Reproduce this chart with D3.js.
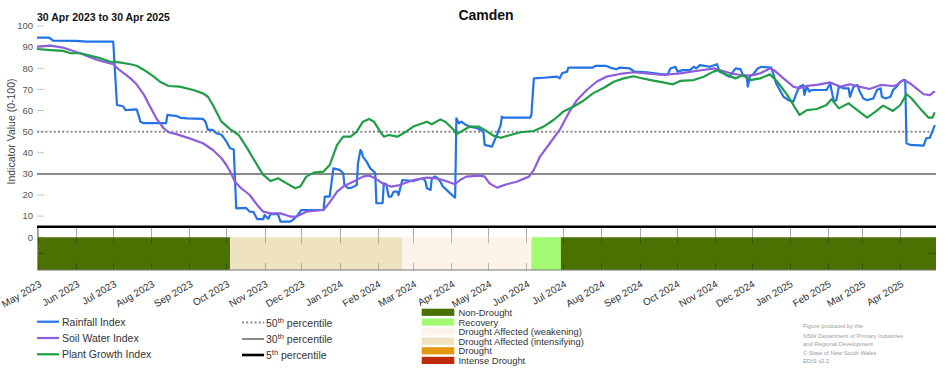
<!DOCTYPE html>
<html><head><meta charset="utf-8">
<script src="https://cdn.jsdelivr.net/npm/d3@7"></script>
<style>body{margin:0;background:#fff}svg{font-family:"Liberation Sans",Arial,sans-serif;display:block}</style>
</head><body><svg id="c" width="952" height="370"></svg>
<script>
// ---------------- DATA ----------------
const chartTitle = "Camden";
const chartSubtitle = "30 Apr 2023 to 30 Apr 2025";
const dateRange = ["2023-04-30", "2025-04-30"];
const yTickValues = [0, 10, 20, 30, 40, 50, 60, 70, 80, 90, 100];
const yAxisTitle = "Indicator Value (0-100)";

const rainfallIndex = [
 ["2023-04-30",94.5],["2023-05-10",94.5],["2023-05-13",93.1],["2023-06-01",93.0],["2023-06-09",92.6],["2023-07-01",92.6],
 ["2023-07-04",62.6],["2023-07-09",62.0],["2023-07-11",60.2],["2023-07-20",60.5],["2023-07-22",57.0],["2023-07-23",54.7],
 ["2023-07-26",54.0],["2023-08-13",54.0],["2023-08-14",57.9],["2023-08-22",57.3],["2023-08-25",56.5],["2023-08-30",56.3],
 ["2023-09-12",56.0],["2023-09-14",54.7],["2023-09-16",50.8],["2023-09-20",50.8],["2023-09-23",49.2],["2023-09-27",48.5],
 ["2023-09-29",47.0],["2023-10-01",45.3],["2023-10-04",42.1],["2023-10-07",41.5],["2023-10-09",13.7],["2023-10-17",13.9],
 ["2023-10-20",12.1],["2023-10-23",12.0],["2023-10-26",8.6],["2023-10-31",8.6],["2023-11-01",10.5],["2023-11-04",8.8],
 ["2023-11-06",10.9],["2023-11-12",10.9],["2023-11-14",7.4],["2023-11-22",7.4],["2023-11-24",8.2],["2023-11-27",9.8],
 ["2023-12-01",12.9],["2023-12-19",12.9],["2023-12-20",19.2],["2023-12-24",19.2],["2023-12-27",32.6],["2024-01-01",31.9],
 ["2024-01-04",30.3],["2024-01-05",24.7],["2024-01-08",23.2],["2024-01-11",23.5],["2024-01-15",24.7],["2024-01-16",35.0],
 ["2024-01-18",41.3],["2024-01-19",40.5],["2024-01-20",38.2],["2024-01-23",35.8],["2024-01-26",32.6],["2024-01-29",31.1],
 ["2024-01-30",30.3],["2024-01-31",16.1],["2024-02-05",16.1],["2024-02-06",25.5],["2024-02-08",25.1],["2024-02-10",19.2],
 ["2024-02-12",19.2],["2024-02-14",21.6],["2024-02-17",21.6],["2024-02-18",20.0],["2024-02-21",27.1],["2024-03-01",26.6],
 ["2024-03-09",27.9],["2024-03-11",26.3],["2024-03-12",23.2],["2024-03-15",22.4],["2024-03-16",27.9],["2024-03-19",28.7],
 ["2024-03-21",27.9],["2024-03-23",26.3],["2024-03-25",24.0],["2024-03-28",22.4],["2024-03-31",20.8],["2024-04-03",19.2],
 ["2024-04-04",18.8],["2024-04-05",56.3],["2024-04-07",53.9],["2024-04-09",54.7],["2024-04-13",53.1],["2024-04-16",52.4],
 ["2024-04-22",51.6],["2024-04-26",50.3],["2024-04-27",50.0],["2024-04-28",43.7],["2024-05-04",42.9],["2024-05-05",44.5],
 ["2024-05-08",48.4],["2024-05-11",53.1],["2024-05-12",57.1],["2024-05-13",56.6],["2024-06-04",56.6],["2024-06-05",57.9],
 ["2024-06-07",75.2],["2024-06-15",75.5],["2024-06-26",76.0],["2024-06-28",75.2],["2024-06-30",77.6],["2024-07-04",78.4],
 ["2024-07-05",80.3],["2024-07-25",80.3],["2024-07-27",81.1],["2024-08-05",81.1],["2024-08-08",80.3],["2024-08-13",79.5],
 ["2024-08-16",80.3],["2024-08-24",79.9],["2024-08-28",78.4],["2024-09-07",78.1],["2024-09-20",77.1],["2024-09-24",77.1],
 ["2024-09-26",79.9],["2024-09-30",80.7],["2024-10-02",78.4],["2024-10-06",79.1],["2024-10-12",79.1],["2024-10-15",80.7],
 ["2024-10-17",79.9],["2024-10-20",81.5],["2024-10-28",80.7],["2024-11-01",81.5],["2024-11-03",81.9],["2024-11-05",78.4],
 ["2024-11-08",77.6],["2024-11-13",76.0],["2024-11-18",79.9],["2024-11-22",79.6],["2024-11-24",76.8],["2024-11-27",76.0],
 ["2024-11-28",71.3],["2024-11-30",76.8],["2024-12-02",76.8],["2024-12-06",79.9],["2024-12-09",80.7],["2024-12-17",80.3],
 ["2024-12-19",76.8],["2024-12-21",72.8],["2024-12-24",69.7],["2024-12-27",66.5],["2024-12-31",64.9],["2025-01-04",64.2],
 ["2025-01-07",68.9],["2025-01-09",71.3],["2025-01-12",72.1],["2025-01-13",67.4],["2025-01-15",71.3],["2025-01-17",69.0],
 ["2025-01-19",69.7],["2025-01-31",69.7],["2025-02-03",72.8],["2025-02-04",69.7],["2025-02-06",64.2],["2025-02-08",65.0],
 ["2025-02-10",71.3],["2025-02-14",70.5],["2025-02-18",70.5],["2025-02-19",66.5],["2025-02-22",71.3],["2025-02-25",72.1],
 ["2025-02-27",69.0],["2025-03-02",65.7],["2025-03-05",64.9],["2025-03-10",65.7],["2025-03-13",69.7],["2025-03-16",70.5],
 ["2025-03-17",66.5],["2025-03-20",65.7],["2025-03-24",66.5],["2025-03-26",69.7],["2025-03-29",71.3],["2025-04-01",73.6],
 ["2025-04-04",74.4],["2025-04-05",74.4],["2025-04-06",44.5],["2025-04-09",43.7],["2025-04-20",43.4],["2025-04-22",46.8],
 ["2025-04-25",47.1],["2025-04-27",50.0],["2025-04-29",53.1]
];

const soilWaterIndex = [
 ["2023-04-30",90.2],["2023-05-11",90.7],["2023-05-21",89.8],["2023-06-04",87.1],["2023-06-18",83.9],["2023-07-01",81.9],
 ["2023-07-06",79.2],["2023-07-15",75.2],["2023-07-20",72.4],["2023-07-26",67.4],["2023-07-31",61.8],["2023-08-05",56.3],
 ["2023-08-11",51.6],["2023-08-15",49.7],["2023-08-22",48.7],["2023-09-01",46.8],["2023-09-12",44.5],["2023-09-20",41.3],
 ["2023-09-27",37.4],["2023-10-01",34.2],["2023-10-04",31.1],["2023-10-08",26.3],["2023-10-13",23.2],["2023-10-20",20.0],
 ["2023-10-26",15.3],["2023-10-31",12.1],["2023-11-06",11.3],["2023-11-14",11.3],["2023-11-22",9.8],["2023-11-27",9.8],
 ["2023-12-05",12.1],["2023-12-19",12.9],["2023-12-24",16.5],["2023-12-30",21.6],["2024-01-04",24.0],["2024-01-12",26.3],
 ["2024-01-20",28.7],["2024-01-25",29.2],["2024-01-30",27.9],["2024-02-06",25.1],["2024-02-12",24.0],["2024-02-19",24.7],
 ["2024-03-01",27.1],["2024-03-12",28.2],["2024-03-20",27.9],["2024-03-25",27.1],["2024-04-04",25.1],["2024-04-08",27.1],
 ["2024-04-13",28.7],["2024-04-24",29.2],["2024-04-28",28.7],["2024-05-02",25.5],["2024-05-08",23.5],["2024-05-16",25.1],
 ["2024-05-24",26.3],["2024-06-03",28.7],["2024-06-07",31.9],["2024-06-12",38.2],["2024-06-20",44.5],["2024-06-28",50.8],
 ["2024-07-06",59.5],["2024-07-12",64.9],["2024-07-20",69.7],["2024-07-28",73.6],["2024-08-05",76.0],["2024-08-16",77.3],
 ["2024-08-27",78.1],["2024-09-07",77.6],["2024-09-20",76.8],["2024-10-04",77.6],["2024-10-17",78.7],["2024-11-01",79.9],
 ["2024-11-05",79.2],["2024-11-14",77.6],["2024-11-22",76.8],["2024-11-30",76.5],["2024-12-08",77.6],["2024-12-16",79.9],
 ["2024-12-19",79.2],["2024-12-27",75.2],["2025-01-04",71.3],["2025-01-09",70.5],["2025-01-15",71.7],["2025-01-23",72.1],
 ["2025-02-03",73.3],["2025-02-11",71.3],["2025-02-19",72.4],["2025-03-02",70.8],["2025-03-07",70.2],["2025-03-16",72.1],
 ["2025-03-26",71.6],["2025-03-29",72.1],["2025-04-04",74.6],["2025-04-09",72.8],["2025-04-14",70.5],["2025-04-20",67.7],
 ["2025-04-25",67.3],["2025-04-29",69.2]
];

const plantGrowthIndex = [
 ["2023-04-30",89.1],["2023-05-11",88.6],["2023-05-21",88.2],["2023-05-27",87.2],["2023-06-04",87.1],["2023-06-12",86.0],
 ["2023-06-20",84.8],["2023-06-28",83.2],["2023-07-06",82.8],["2023-07-15",81.9],["2023-07-20",81.2],["2023-07-26",79.2],
 ["2023-08-03",76.0],["2023-08-08",73.6],["2023-08-15",71.6],["2023-08-24",71.3],["2023-09-04",69.7],["2023-09-12",68.1],
 ["2023-09-16",66.5],["2023-09-20",62.6],["2023-09-27",54.7],["2023-10-04",51.2],["2023-10-11",48.4],["2023-10-18",42.1],
 ["2023-10-26",34.2],["2023-10-31",29.5],["2023-11-06",26.6],["2023-11-12",27.9],["2023-11-19",25.5],["2023-11-26",23.2],
 ["2023-11-30",24.0],["2023-12-05",28.7],["2023-12-11",30.6],["2023-12-19",31.1],["2023-12-24",34.2],["2023-12-30",43.7],
 ["2024-01-04",47.6],["2024-01-10",47.6],["2024-01-15",50.0],["2024-01-20",54.7],["2024-01-25",56.0],["2024-01-29",54.7],
 ["2024-02-03",50.0],["2024-02-06",47.6],["2024-02-10",48.4],["2024-02-17",47.6],["2024-02-22",49.2],["2024-03-01",52.4],
 ["2024-03-12",54.7],["2024-03-16",53.5],["2024-03-23",55.8],["2024-03-27",54.7],["2024-04-03",50.8],["2024-04-05",48.7],
 ["2024-04-11",50.8],["2024-04-16",52.4],["2024-04-23",52.4],["2024-04-28",50.8],["2024-05-05",48.1],["2024-05-11",47.1],
 ["2024-05-19",48.4],["2024-05-27",49.7],["2024-06-07",50.3],["2024-06-15",52.4],["2024-06-23",55.5],["2024-07-01",59.5],
 ["2024-07-09",61.8],["2024-07-17",64.5],["2024-07-25",68.1],["2024-08-03",70.8],["2024-08-11",73.6],["2024-08-19",75.2],
 ["2024-08-27",76.2],["2024-09-01",75.5],["2024-09-10",74.4],["2024-09-20",73.3],["2024-09-28",72.4],["2024-10-04",74.0],
 ["2024-10-15",74.4],["2024-10-23",76.0],["2024-10-31",78.4],["2024-11-04",79.1],["2024-11-11",76.8],["2024-11-18",75.2],
 ["2024-11-24",76.8],["2024-11-30",74.4],["2024-12-08",75.2],["2024-12-16",77.1],["2024-12-22",73.6],["2024-12-30",67.4],
 ["2025-01-04",62.6],["2025-01-09",57.9],["2025-01-15",60.2],["2025-01-23",60.7],["2025-01-31",62.6],["2025-02-04",65.4],
 ["2025-02-10",61.0],["2025-02-18",63.4],["2025-02-25",60.2],["2025-03-05",56.6],["2025-03-11",59.1],["2025-03-18",62.3],
 ["2025-03-26",59.8],["2025-04-01",62.6],["2025-04-06",67.7],["2025-04-10",65.8],["2025-04-17",61.0],["2025-04-24",56.6],
 ["2025-04-27",56.6],["2025-04-29",59.1]
];

const seriesNames = ["Rainfall Index", "Soil Water Index", "Plant Growth Index"];
const percentileValues = [50, 30, 5];
const percentileOrdinals = ["50", "30", "5"];

const statusNames = ["Non-Drought", "Recovery", "Drought Affected (weakening)", "Drought Affected (intensifying)", "Drought", "Intense Drought"];
const statusPeriods = [
 ["2023-04-30", "2023-10-04", "Non-Drought"],
 ["2023-10-04", "2024-02-21", "Drought Affected (intensifying)"],
 ["2024-02-21", "2024-06-05", "Drought Affected (weakening)"],
 ["2024-06-05", "2024-06-29", "Recovery"],
 ["2024-06-29", "2025-04-30", "Non-Drought"]
];
const creditLines = ["Figure produced by the", "NSW Department of Primary Industries", "and Regional Development", "\u00A9 State of New South Wales", "EDIS v2.2"];

// ---------------- DRAWING ----------------
const parse = d3.timeParse("%Y-%m-%d");
const svg = d3.select("#c");
const left = 37, right = 936;
const x = d3.scaleTime().domain(dateRange.map(parse)).range([left, right]);
const y = d3.scaleLinear().domain([-15.5, 100]).range([270, 26]);

const seriesColors = ["#2372e6", "#8c5ddd", "#1f9d47"];
const statusColors = {"Non-Drought":"#4b7102","Recovery":"#a3f972","Drought Affected (weakening)":"#fcf4e9",
  "Drought Affected (intensifying)":"#eee2c1","Drought":"#e2990f","Intense Drought":"#bf2a08"};
const pctStyles = [{c:"#8a8a8a", w:2, dash:"2,2.2"}, {c:"#8a8a8a", w:2, dash:null}, {c:"#000", w:2.6, dash:null}];

// title
svg.append("text").attr("x", 486).attr("y", 19.5).attr("text-anchor","middle")
  .attr("font-size", 14).attr("font-weight","bold").attr("fill","#111").text(chartTitle);
svg.append("text").attr("x", 37).attr("y", 21).attr("font-size", 10.5).attr("font-weight","bold").attr("fill","#111").text(chartSubtitle);

// y axis title
svg.append("text").attr("transform","translate(15,131.5) rotate(-90)").attr("text-anchor","middle")
  .attr("font-size", 10.5).attr("fill","#444").text(yAxisTitle);

// y ticks
const yt = svg.append("g");
yTickValues.forEach(v => {
  yt.append("line").attr("x1", left).attr("x2", left + 7).attr("y1", y(v)).attr("y2", y(v)).attr("stroke","#c4c4c4").attr("stroke-width",1);
  yt.append("text").attr("x", 33).attr("y", y(v) + 3.3).attr("text-anchor","end").attr("font-size", 9.5).attr("fill","#555").text(v);
});

// percentile lines 50 & 30
percentileValues.slice(0,2).forEach((v,i) => {
  const s = pctStyles[i];
  svg.append("line").attr("x1", left).attr("x2", right).attr("y1", y(v)).attr("y2", y(v))
    .attr("stroke", s.c).attr("stroke-width", s.w).attr("stroke-dasharray", s.dash);
});

// status band
const band = svg.append("g");
statusPeriods.forEach(p => {
  band.append("rect").attr("x", x(parse(p[0]))).attr("width", x(parse(p[1])) - x(parse(p[0])))
    .attr("y", y(0)).attr("height", y(-15.5) - y(0)).attr("fill", statusColors[p[2]]);
});

// month ticks
const months = x.ticks(d3.timeMonth.every(1));
const tk = svg.append("g");
months.forEach(m => {
  const xm = Math.round(x(m)) + 0.5;
  tk.append("line").attr("x1", xm).attr("x2", xm).attr("y1", y(5)).attr("y2", y(0)).attr("stroke","#aaa").attr("stroke-width",1);
  tk.append("line").attr("x1", xm).attr("x2", xm).attr("y1", y(0)).attr("y2", y(0)+6).attr("stroke","rgba(0,0,0,0.25)").attr("stroke-width",1);
  tk.append("line").attr("x1", xm).attr("x2", xm).attr("y1", y(-15.5)-7).attr("y2", y(-15.5)).attr("stroke","rgba(0,0,0,0.25)").attr("stroke-width",1);
  tk.append("text").attr("transform", `translate(${x(m)+4},${286}) rotate(-30)`).attr("text-anchor","end")
    .attr("font-size", 10).attr("fill","#333").text(d3.timeFormat("%b %Y")(m));
});
// band side ticks
[left, right].forEach((xx,i) => {
  svg.append("line").attr("x1", i ? xx-8 : xx).attr("x2", i ? xx : xx+8).attr("y1", y(-7.6)).attr("y2", y(-7.6)).attr("stroke","rgba(0,0,0,0.3)");
});
svg.append("line").attr("x1", left+0.5).attr("x2", left+0.5).attr("y1", y(5)).attr("y2", y(-15.5)).attr("stroke","#999");
svg.append("line").attr("x1", left).attr("x2", right).attr("y1", y(-15.5)).attr("y2", y(-15.5)).attr("stroke","#777").attr("stroke-width",1);

// 5th percentile
svg.append("line").attr("x1", left).attr("x2", right).attr("y1", y(5)).attr("y2", y(5))
  .attr("stroke", pctStyles[2].c).attr("stroke-width", pctStyles[2].w);

// series
const line = d3.line().x(d => x(parse(d[0]))).y(d => y(d[1]));
[rainfallIndex, soilWaterIndex, plantGrowthIndex].forEach((s,i) => {
  svg.append("path").attr("d", line(s)).attr("fill","none").attr("stroke", seriesColors[i])
    .attr("stroke-width", 2.2).attr("stroke-linejoin","round");
});

// legend: series
const lg = svg.append("g");
const seriesRowsY = [321.7, 338, 354.3];
seriesNames.forEach((n,i) => {
  lg.append("line").attr("x1", 37).attr("x2", 59).attr("y1", seriesRowsY[i]).attr("y2", seriesRowsY[i]).attr("stroke", seriesColors[i]).attr("stroke-width", 2.2);
  lg.append("text").attr("x", 62).attr("y", seriesRowsY[i] + 3.8).attr("font-size", 10.5).attr("fill","#333").text(n);
});
// legend: percentiles
const pctRowsY = [322.5, 339, 355];
percentileOrdinals.forEach((o,i) => {
  const s = pctStyles[i];
  lg.append("line").attr("x1", 242).attr("x2", 264).attr("y1", pctRowsY[i]).attr("y2", pctRowsY[i])
    .attr("stroke", s.c).attr("stroke-width", s.w).attr("stroke-dasharray", s.dash);
  const t = lg.append("text").attr("x", 266).attr("y", pctRowsY[i] + 4).attr("font-size", 10.5).attr("fill","#333");
  t.append("tspan").text(o);
  t.append("tspan").attr("dy", -4).attr("font-size", 7.5).text("th");
  t.append("tspan").attr("dy", 4).text(" percentile");
});
// legend: status
const stRowsY = [312.3, 322, 331.7, 341.2, 350.8, 360.4];
statusNames.forEach((n,i) => {
  lg.append("rect").attr("x", 421.7).attr("y", stRowsY[i] - 3.6).attr("width", 32.6).attr("height", 7.2).attr("fill", statusColors[n]);
  lg.append("text").attr("x", 458.5).attr("y", stRowsY[i] + 3.5).attr("font-size", 9.4).attr("fill","#333").text(n);
});
// credits
const crY = [328, 337.5, 346, 354.5, 363];
creditLines.forEach((c,i) => {
  svg.append("text").attr("x", 803).attr("y", crY[i]).attr("font-size", 5.8).attr("fill","#9a9a9a").text(c);
});
</script></body></html>
